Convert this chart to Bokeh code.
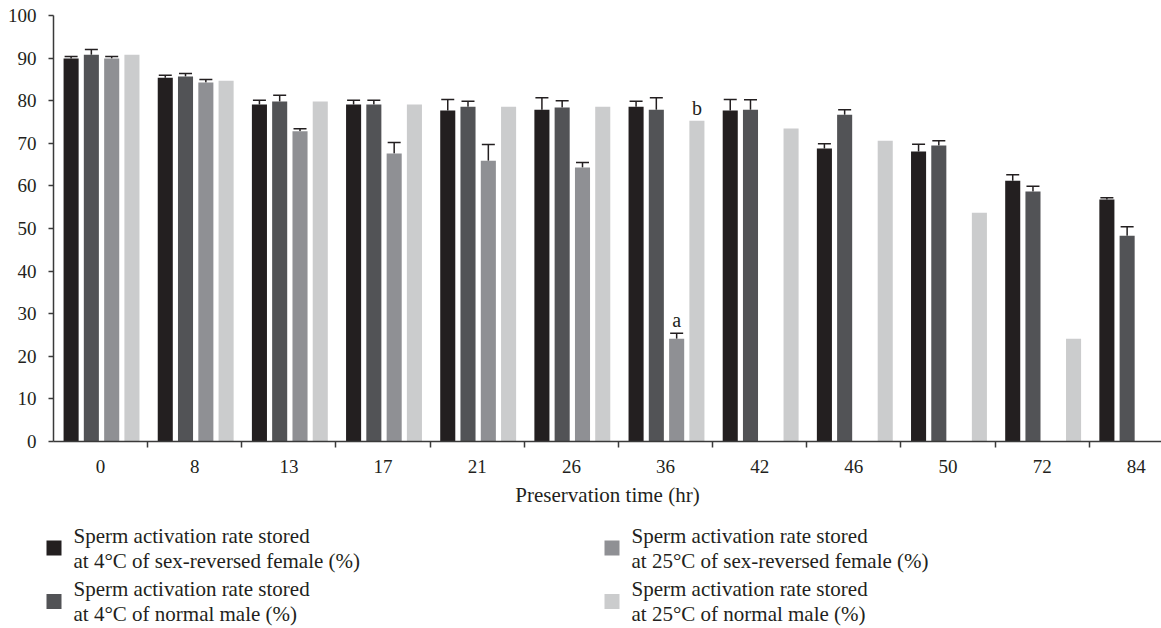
from bokeh.plotting import figure
from bokeh.layouts import column
from bokeh.models import (ColumnDataSource, Range1d, FixedTicker, Whisker, TeeHead)
from bokeh.core.properties import value
from bokeh.embed import file_html
from bokeh.resources import INLINE

# ---------------- data ----------------
categories = ["0", "8", "13", "17", "21", "26", "36", "42", "46", "50", "72", "84"]

female_4c = [89.9, 85.4, 79.1, 79.1, 77.7, 77.9, 78.6, 77.7, 68.8, 68.1, 61.2, 56.8]
female_4c_err = [0.5, 0.6, 1.0, 1.0, 2.6, 2.8, 1.3, 2.6, 1.1, 1.7, 1.4, 0.4]

male_4c = [90.8, 85.7, 79.8, 79.1, 78.6, 78.4, 77.9, 77.9, 76.7, 69.5, 58.7, 48.3]
male_4c_err = [1.2, 0.7, 1.5, 1.0, 1.3, 1.6, 2.8, 2.3, 1.2, 1.1, 1.2, 2.1]

female_25c = [89.9, 84.3, 72.8, 67.6, 65.9, 64.3, 24.1, None, None, None, None, None]
female_25c_err = [0.5, 0.7, 0.6, 2.6, 3.8, 1.2, 1.3, None, None, None, None, None]

male_25c = [90.8, 84.7, 79.8, 79.1, 78.6, 78.6, 75.3, 73.5, 70.6, 53.7, 24.1, None]
male_25c_err = [None] * 12

letter_cats = ["36", "36"]
letter_series = [2, 3]
letter_texts = ["a", "b"]

series_labels = [
    ["Sperm activation rate stored", "at 4°C of sex-reversed female (%)"],
    ["Sperm activation rate stored", "at 4°C of normal male (%)"],
    ["Sperm activation rate stored", "at 25°C of sex-reversed female (%)"],
    ["Sperm activation rate stored", "at 25°C of normal male (%)"],
]
colors = ["#231f20", "#525356", "#8f9094", "#cbcccd"]
offsets = [-0.313, -0.098, 0.118, 0.333]
bar_w = 0.16

FONT = "Liberation Serif"
AXIS_COLOR = "#3a3a3a"
TEXT_COLOR = "#231f20"

p = figure(width=1161, height=518, output_backend="svg", toolbar_location=None,
           x_range=Range1d(0, 11.767), y_range=Range1d(0, 100),
           min_border_left=53, min_border_right=0, min_border_top=15,
           min_border_bottom=77)
p.frame_align = False
p.outline_line_color = None
p.xgrid.visible = False
p.ygrid.visible = False

all_series = [(female_4c, female_4c_err), (male_4c, male_4c_err),
              (female_25c, female_25c_err), (male_25c, male_25c_err)]
for s, (vals, errs) in enumerate(all_series):
    xs, tops, uppers = [], [], []
    for i, v in enumerate(vals):
        if v is None:
            continue
        xs.append(i + 0.5 + offsets[s])
        tops.append(v)
        uppers.append(v + (errs[i] if errs[i] is not None else 0))
    src = ColumnDataSource(dict(x=xs, top=tops, upper=uppers))
    p.vbar(x="x", top="top", width=bar_w, bottom=0, source=src,
           fill_color=colors[s], line_color=None)
    if any(e is not None for e in errs):
        wsrc = ColumnDataSource(dict(x=xs, lower=tops, upper=uppers))
        w = Whisker(base="x", lower="lower", upper="upper", source=wsrc,
                    line_color=TEXT_COLOR, line_width=1.5,
                    upper_head=TeeHead(size=13, line_color=TEXT_COLOR, line_width=1.5),
                    lower_head=None)
        p.add_layout(w)

# significance letters
lx, ly = [], []
for c, s in zip(letter_cats, letter_series):
    i = categories.index(c)
    vals, errs = all_series[s]
    lx.append(i + 0.5 + offsets[s])
    ly.append(vals[i] + (errs[i] if errs[i] is not None else 0))
p.text(x=lx, y=ly, text=letter_texts, text_font=value(FONT), text_font_size="20px",
       text_align="center", text_baseline="alphabetic", y_offset=-13,
       text_color=TEXT_COLOR)

# axes
xa = p.xaxis[0]
xa.ticker = FixedTicker(ticks=[i + 0.5 for i in range(len(categories))],
                        minor_ticks=[float(i) for i in range(1, len(categories))])
xa.major_label_overrides = {i + 0.5: c for i, c in enumerate(categories)}
xa.major_tick_line_color = None
xa.major_tick_out = 0
xa.major_tick_in = 0
xa.minor_tick_line_color = AXIS_COLOR
xa.minor_tick_line_width = 1.5
xa.minor_tick_out = 6
xa.minor_tick_in = 0
xa.axis_line_color = AXIS_COLOR
xa.axis_line_width = 1.5
xa.major_label_standoff = 12
xa.major_label_text_font = FONT
xa.major_label_text_font_size = "19px"
xa.major_label_text_color = TEXT_COLOR
xa.axis_label = "Preservation time (hr)"
xa.axis_label_text_font = FONT
xa.axis_label_text_font_size = "21px"
xa.axis_label_text_font_style = "normal"
xa.axis_label_text_color = TEXT_COLOR
xa.axis_label_standoff = 7

ya = p.yaxis[0]
ya.ticker = FixedTicker(ticks=list(range(0, 101, 10)))
ya.minor_tick_line_color = None
ya.major_tick_out = 5
ya.major_tick_in = 0
ya.major_tick_line_color = AXIS_COLOR
ya.major_tick_line_width = 1.5
ya.axis_line_color = AXIS_COLOR
ya.axis_line_width = 1.5
ya.major_label_standoff = 12
ya.major_label_text_font = FONT
ya.major_label_text_font_size = "19px"
ya.major_label_text_color = TEXT_COLOR

# ---------------- legend panel (pixel coordinates, y downwards) ----------------
lp = figure(width=1161, height=110, output_backend="svg", toolbar_location=None,
            x_range=Range1d(0, 1161), y_range=Range1d(110, 0),
            x_axis_type=None, y_axis_type=None,
            min_border_left=0, min_border_right=0, min_border_top=0, min_border_bottom=0)
lp.frame_align = False
lp.outline_line_color = None
lp.xgrid.visible = False
lp.ygrid.visible = False

key_size = 15
key_left = [46, 46, 604, 604]          # legend layout: left edge of each key
key_mid = [29.5, 83.0, 29.5, 83.0]     # legend layout: vertical centre of each key
line_gap = 25.0
text_gap = 12

lp.rect(x=[kx + key_size / 2 for kx in key_left], y=key_mid,
        width=key_size, height=key_size, fill_color=colors, line_color=None)
tx, ty, tt = [], [], []
for k in range(4):
    for j, line in enumerate(series_labels[k]):
        tx.append(key_left[k] + key_size + text_gap)
        ty.append(key_mid[k] + (j - 0.5) * line_gap)
        tt.append(line)
lp.text(x=tx, y=ty, text=tt, text_font=value(FONT), text_font_size="21px",
        text_align="left", text_baseline="middle", text_color=TEXT_COLOR)

layout = column(p, lp, spacing=0)
open("out.html", "w").write(file_html(layout, INLINE))
